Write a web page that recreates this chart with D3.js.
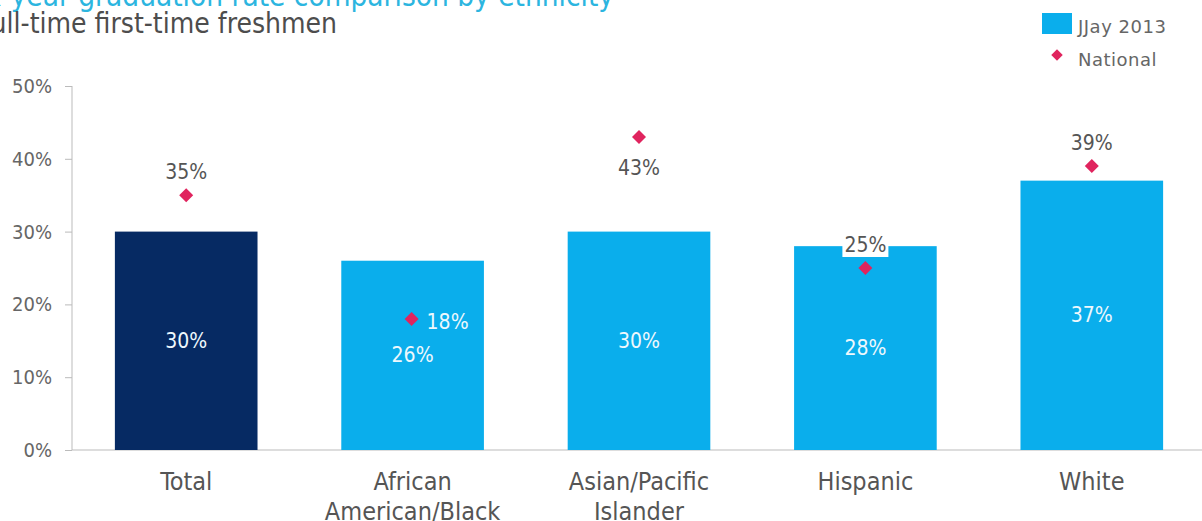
<!DOCTYPE html>
<html>
<head>
<meta charset="utf-8">
<script src="https://cdn.jsdelivr.net/npm/d3@7"></script>
<style>
  html, body { margin: 0; padding: 0; background: #fff; overflow: hidden; }
  svg { display: block; }
  text { font-family: "DejaVu Sans Condensed", "DejaVu Sans", sans-serif; font-stretch: condensed; }
  .legend-text { font-family: "DejaVu Sans", sans-serif; font-stretch: normal; letter-spacing: 0.5px; }
</style>
</head>
<body>
<div id="chart"></div>
<script>
// Graduation rates, JJay 2013 vs national, by ethnicity
const categories = ["Total", "African\nAmerican/Black", "Asian/Pacific\nIslander", "Hispanic", "White"];
const jjayValues = [30, 26, 30, 28, 37];
const nationalValues = [35, 18, 43, 25, 39];
const yTicks = [0, 10, 20, 30, 40, 50];
// where each national label sits relative to its marker
const nationalLabelPos = ["above", "right", "below", "above-boxed", "above"];

const W = 1202, H = 521;
const svg = d3.select("#chart").append("svg").attr("width", W).attr("height", H);

const x = d3.scaleBand().domain(categories).range([73, 1205]).paddingInner(0.37).paddingOuter(0.185);
const y = d3.scaleLinear().domain([0, 50]).range([450, 86]);

// titles (partly outside the canvas)
svg.append("text").attr("x", 614).attr("y", 6).attr("text-anchor", "end")
  .attr("fill", "#2cb5df").attr("font-size", 29.5)
  .text("Six-year graduation rate comparison by ethnicity");
svg.append("text").attr("x", 337).attr("y", 33).attr("text-anchor", "end")
  .attr("fill", "#4d4d4d").attr("font-size", 28)
  .text("Full-time first-time freshmen");

// y axis
const yAxis = svg.append("g").attr("transform", "translate(72,0)")
  .call(d3.axisLeft(y).tickValues(yTicks).tickSize(7).tickFormat(d => d + "%"));
yAxis.select(".domain").attr("stroke", "#bbb").attr("d", `M0,${y(50)}V${y(0)}`);
yAxis.selectAll(".tick line").attr("stroke", "#bbb");
yAxis.selectAll(".tick text").attr("fill", "#666").attr("font-size", 20)
  .attr("font-family", "DejaVu Sans Condensed, DejaVu Sans, sans-serif").attr("x", -20);

// x axis baseline
const xAxis = svg.append("g").attr("transform", `translate(0,${y(0)})`)
  .call(d3.axisBottom(x).tickSize(0).tickFormat(""));
xAxis.select(".domain").attr("stroke", "#bbb").attr("d", `M72,0H${W}`);

// bars
svg.append("g").selectAll("rect").data(categories).join("rect")
  .attr("x", d => x(d))
  .attr("y", (d, i) => y(jjayValues[i]))
  .attr("width", x.bandwidth())
  .attr("height", (d, i) => y(0) - y(jjayValues[i]))
  .attr("fill", (d, i) => i === 0 ? "#062a63" : "#0aaeec");

// bar value labels
svg.append("g").selectAll("text").data(categories).join("text")
  .attr("x", d => x(d) + x.bandwidth() / 2)
  .attr("y", (d, i) => (y(jjayValues[i]) + y(0)) / 2 + 7)
  .attr("text-anchor", "middle").attr("fill", "#eef8fd").attr("font-size", 21)
  .text((d, i) => jjayValues[i] + "%");

// category labels
const catG = svg.append("g");
categories.forEach(c => {
  const t = catG.append("text").attr("x", x(c) + x.bandwidth() / 2).attr("y", 490)
    .attr("text-anchor", "middle").attr("fill", "#555").attr("font-size", 25);
  c.split("\n").forEach((line, j) => {
    t.append("tspan").attr("x", x(c) + x.bandwidth() / 2).attr("dy", j === 0 ? 0 : 30).text(line);
  });
});

// national markers
const diamond = d3.symbol().type(d3.symbolDiamond2).size(125);
const cx = (i) => x(categories[i]) + x.bandwidth() / 2 + (i === 1 ? -1 : 0);
svg.append("g").selectAll("path").data(nationalValues).join("path")
  .attr("d", diamond)
  .attr("transform", (d, i) => `translate(${cx(i)},${y(d)})`)
  .attr("fill", "#e0245e");

// national labels
const natG = svg.append("g");
nationalValues.forEach((v, i) => {
  const pos = nationalLabelPos[i];
  let tx = cx(i), ty = y(v), anchor = "middle", fill = "#555";
  if (pos.startsWith("above")) ty -= 16;
  else if (pos === "below") ty += 38;
  else if (pos === "right") { tx += 15; ty += 10; anchor = "start"; fill = "#eef8fd"; }
  if (pos === "above-boxed") {
    natG.append("rect").attr("x", tx - 23).attr("y", ty - 20).attr("width", 46).attr("height", 25).attr("fill", "#fff");
  }
  natG.append("text").attr("x", tx).attr("y", ty).attr("text-anchor", anchor)
    .attr("fill", fill).attr("font-size", 21).text(v + "%");
});

// legend
const lg = svg.append("g");
lg.append("rect").attr("x", 1042).attr("y", 13).attr("width", 30).attr("height", 21).attr("fill", "#0aaeec");
lg.append("text").attr("class", "legend-text").attr("x", 1078).attr("y", 33).attr("fill", "#666").attr("font-size", 18).text("JJay 2013");
lg.append("path").attr("d", d3.symbol().type(d3.symbolDiamond2).size(85))
  .attr("transform", "translate(1057,55)").attr("fill", "#e0245e");
lg.append("text").attr("class", "legend-text").attr("x", 1078).attr("y", 66).attr("fill", "#666").attr("font-size", 18).text("National");
</script>
</body>
</html>
